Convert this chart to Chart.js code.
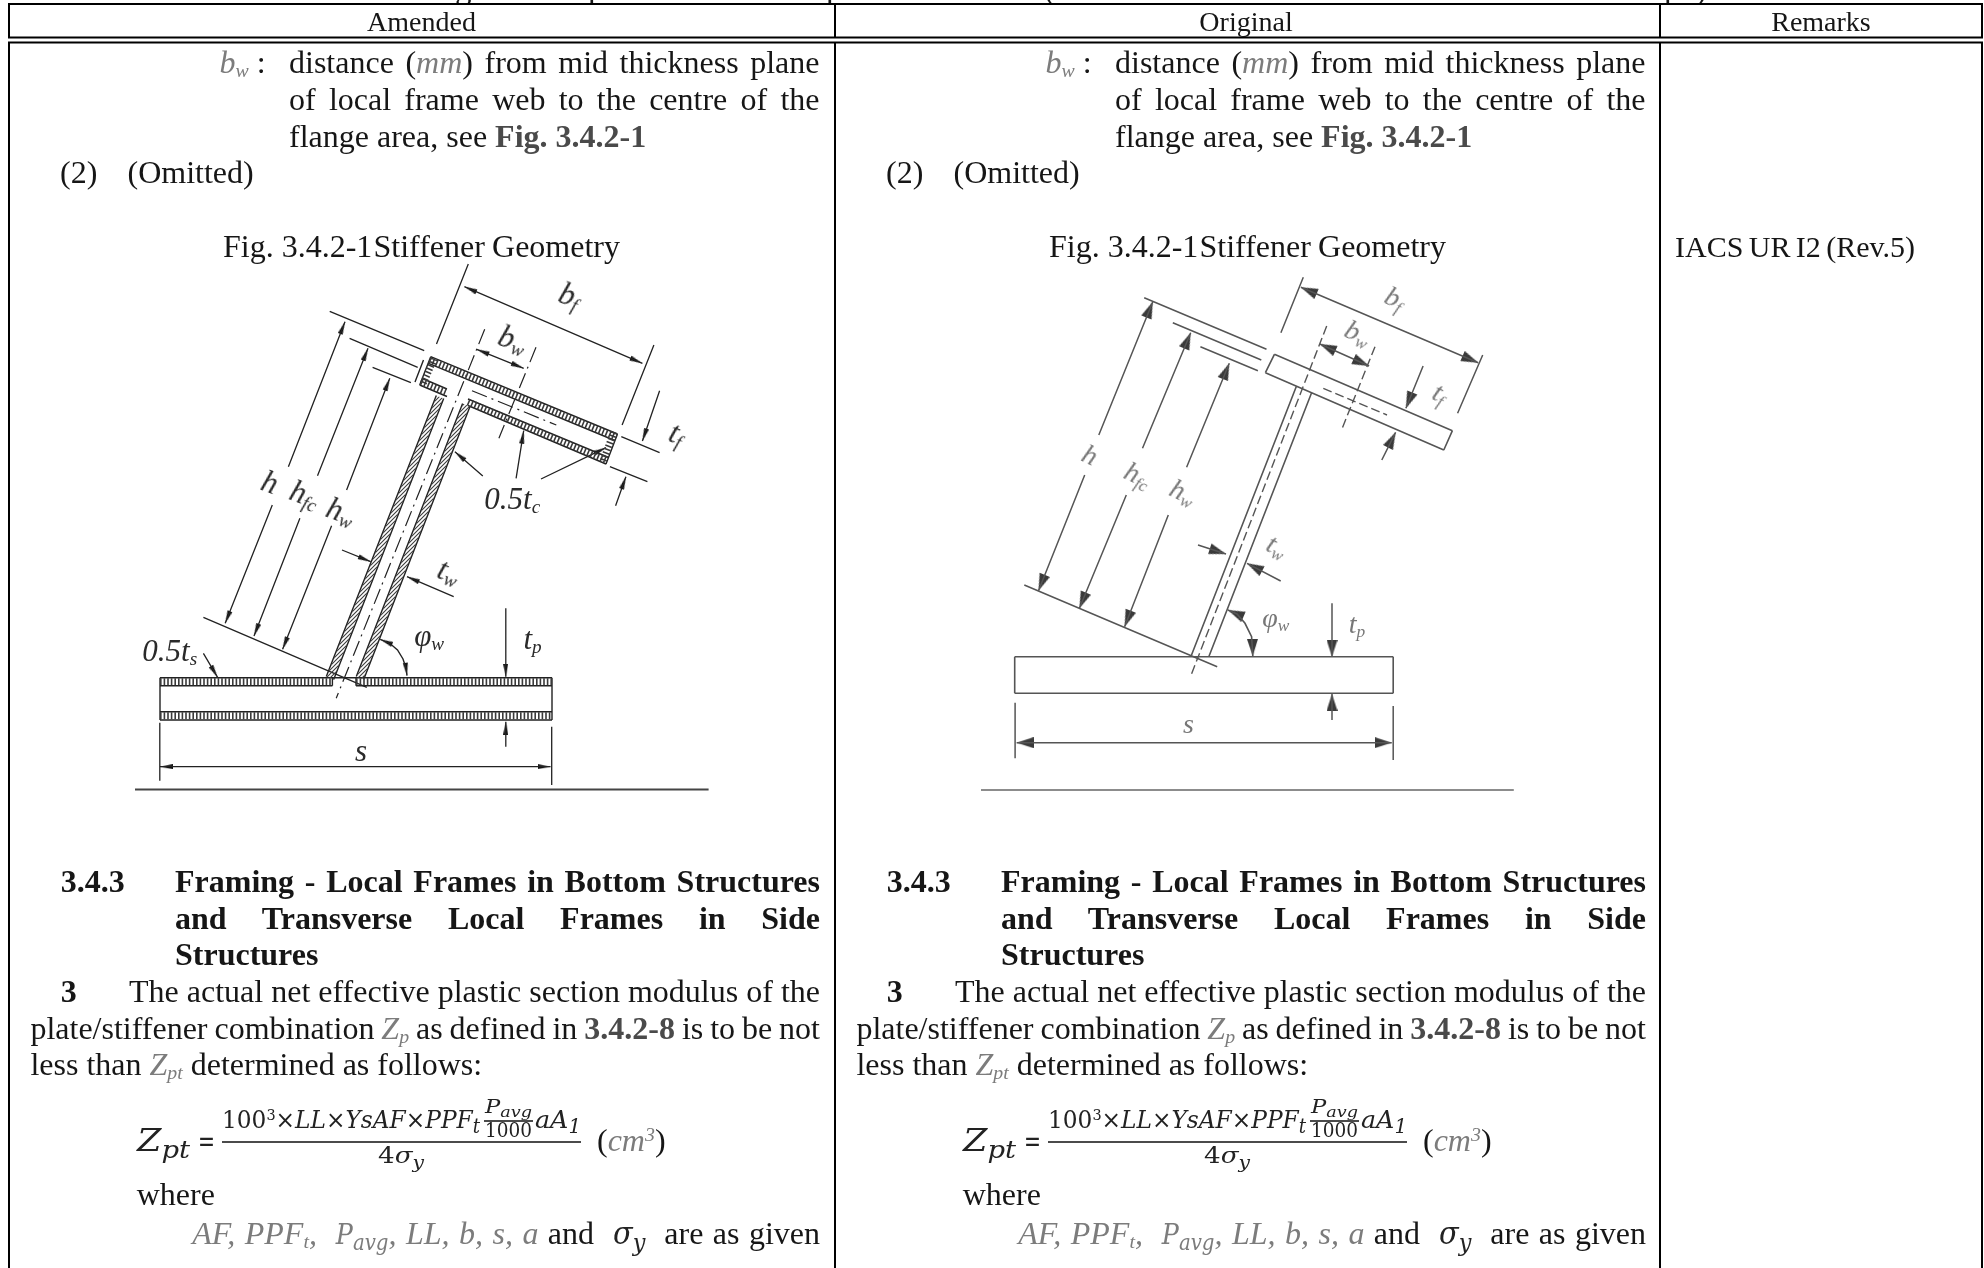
<!DOCTYPE html>
<html><head><meta charset="utf-8">
<script src="https://cdn.jsdelivr.net/npm/chart.js@4/dist/chart.umd.js"></script>
<style>
html,body{margin:0;padding:0;background:#fff;width:1984px;height:1268px;overflow:hidden}
#c{position:absolute;left:0;top:0;display:block}
#txt{position:absolute;left:0;top:0;width:1984px;height:1268px;font-family:"Liberation Serif","Times New Roman",serif;color:#161616}
.t{position:absolute;white-space:nowrap;line-height:1em;transform-origin:left center}
.t i.g,.g{color:#7c7c7c}
b.g{color:#4a4a4a}
sub{font-size:.62em;vertical-align:-.22em;line-height:0}
sup{font-size:.62em;vertical-align:.5em;line-height:0}
.m{font-family:"DejaVu Serif Condensed","DejaVu Serif",serif;font-style:italic;color:#222}
.m.n,.m .n{font-style:normal}
.m.g{color:#7c7c7c;font-size:.88em}
.m sub{font-size:.78em;vertical-align:-.28em}
.lab{position:absolute;white-space:nowrap;line-height:1em;font-style:italic}
.lab.a{font-size:31px;color:#2a2a2a;filter:blur(.3px)}
.lab.o{font-size:28px;color:#777;filter:blur(.6px)}
#top{position:absolute;left:0;top:0;width:1984px;height:3px;overflow:hidden}
</style></head><body>
<canvas id="c" width="1984" height="1268"></canvas>
<div id="txt"><div id="top"></div></div>
<script>
// ---------- text content ----------
const headers = [["Amended", 421.5], ["Original", 1246], ["Remarks", 1821]];
const BW = '<i class="g">b<sub>w</sub></i> :';
const bodyFont = 32;
const columnShift = 826;
// [x, baseline, fit width, html, size]
const columnText = [
  [219.6, 72.5, 0, BW],
  [289, 72.5, 530.5, 'distance (<i class="g">mm</i>) from mid thickness plane'],
  [289, 109.5, 530.5, 'of local frame web to the centre of the'],
  [289, 146.5, 0, 'flange area, see <b class="g">Fig. 3.4.2-1</b>'],
  [60, 183, 0, '(2)'],
  [127.5, 183, 0, '(Omitted)'],
  [223, 257, 0, 'Fig. 3.4.2-1'],
  [373.5, 257, 246.5, 'Stiffener Geometry'],
  [60.7, 892, 0, '<b>3.4.3</b>'],
  [175, 892, 645, '<b>Framing - Local Frames in Bottom Structures</b>'],
  [175, 928.5, 645, '<b>and Transverse Local Frames in Side</b>'],
  [175, 965, 0, '<b>Structures</b>'],
  [60.7, 1002, 0, '<b>3</b>'],
  [129, 1002, 691, 'The actual net effective plastic section modulus of the'],
  [30.4, 1038.5, 789.6, 'plate/stiffener combination <i class="g">Z<sub>p</sub></i> as defined in <b class="g">3.4.2-8</b> is to be not'],
  [30.4, 1075, 0, 'less than <i class="g">Z<sub>pt</sub></i> determined as follows:'],
  [136.7, 1205, 0, 'where'],
  [192.3, 1244, 627.7, '<i class="g">AF, PPF<sub>t</sub>, &nbsp;</i><span class="m g">P<sub>avg</sub></span><i class="g">, LL, b, s, a</i> and &nbsp;<span class="m">σ<sub>y</sub></span> &nbsp;are as given'],
  [597, 1151, 0, '(<i class="g">cm<sup>3</sup></i>)']
];
// [x, baseline, fit width (glyph scaling), html, size]
const formulaText = [
  [136.7, 1151, 53, '<span class="m">Z<sub>pt</sub></span>', 31],
  [198, 1151, 17, '<span class="m n">=</span>', 30],
  [222, 1128, 258, '<span class="m"><span class="n">100<sup>3</sup>×</span>LL<span class="n">×</span>YsAF<span class="n">×</span>PPF<sub>t</sub></span>', 25],
  [485, 1113, 47, '<span class="m">P<sub>avg</sub></span>', 19],
  [485, 1137.5, 47, '<span class="m n">1000</span>', 21],
  [535, 1128, 46, '<span class="m">aA<sub>1</sub></span>', 25],
  [378, 1163, 46, '<span class="m"><span class="n">4</span>σ<sub>y</sub></span>', 22]
];
const remarkText = [1675, 257, 240, 'IACS UR I2 (Rev.5)'];
const titleTails = [[455,'g'],[588,'p'],[826,'p'],[1044,'('],[1664,'p'],[1696,')']];

// ---------- table rules [x1,y1,x2,y2] ----------
const tableRules = [
  [8,4,1983,4],[9,4,9,37],[835,4,835,37],[1660,4,1660,37],[1982,4,1982,37],
  [8,37.5,1983,37.5],[8,42.5,1983,42.5],
  [9,42,9,1268],[835,42,835,1268],[1660,42,1660,1268],[1982,42,1982,1268]
];
const fractionBars = [[222,1142,581,1142],[484,1121,533,1121]];

// ---------- amended figure ----------
const amendedOutline = [
  [430.7,356.7,617.5,434],[428,363.2,614.8,440.5],
  [419.7,385,447,396.5],[422.4,378.5,447,389],[468,405.5,606,464],[468,399,608.7,457.5],
  [430.7,356.7,419.7,385],[617.5,434,606,464],[423.5,360,415,382],
  [436.3,395.6,326.3,676.6],[443.7,398.4,333.7,679.4],[462.6,403.6,356.3,676.6],[470,406.4,363.7,679.4],
  [160,677.7,552,677.7],[160,685.7,332.4,685.7],[356,685.7,552,685.7],[332.4,677.7,332.4,685.7],[356,677.7,356,685.7],
  [160,711.7,552,711.7],[160,720,552,720],[160,677.7,160,720],[552,677.7,552,720]
];
const amendedHatch = [
  [429.4,359.9,616.2,437.2],[421,381.8,447.5,392.8],[468,402,607.3,460.8],
  [434,358.5,423,384],[614,432,603,461],
  [160,681.7,332.4,681.7],[356,681.7,552,681.7],[160,715.8,552,715.8]
];
const amendedWebHatch = [[440,397,330,678],[466.3,405,360,678]];
const amendedThin = [
  [329.7,311.3,424.2,350.7],[349.6,338.3,417.7,367.3],[372.6,367.3,410.9,382.7],
  [203.4,617.3,366.8,687.3],[468.3,264,436.5,344],[653.9,345,622.1,425],
  [621.3,436.7,659.6,452.7],[609.9,466.7,647.4,481.7],
  [159.8,722.7,159.8,780.7],[551.7,726.7,551.7,785]
];
const amendedArrows = [
  [288.4,466.7,345,321.7],[317.5,475.7,368,348.3],[346.6,490,389.8,378.3],
  [272.3,505,225.2,623.3],[299.9,518.3,254,636],[331.6,525.7,282.6,649.3],
  [642.4,363.3,464.4,286.7],[464.4,286.7,642.4,363.3],
  [523.7,368.3,476.7,349.3],[476.7,349.3,523.7,368.3],
  [659.6,390.7,642.4,441],[615.6,505.7,625.9,476.7],
  [482.8,476,454.9,451.7],[516.1,478.3,523.7,430.7],[541,479,606,447.7],
  [342,550,370.7,561.7],[453.7,596.7,407,576.7],
  [505.8,608.3,505.8,676.7],[505.8,746.7,505.8,721.7],
  [203.4,653.3,217.6,677.3],
  [550.5,766.7,160,766.7],[160,766.7,550.5,766.7],
  [390,643.5,380.2,639.3],[406,668,407,675.7]
];
const amendedArc = [[380.2,639.3],[390,643.5],[397.5,650],[403,659],[406,668],[407,675.7]];
const amendedCenter = [[484.7,329.3,336.2,698.3],[536,347.3,498.9,438.3],[472,390.7,556.3,425]];
const amendedBase = [[135,789.5,708.6,789.5]];
const amendedLabels = [
  [570,295,'b<sub>f</sub>',20],[512.5,339,'b<sub>w</sub>',20],[676.8,432.5,'t<sub>f</sub>',20],
  [512.3,497.5,'0.5t<sub>c</sub>',0],[270.4,481.7,'h',20],[304.5,494,'h<sub>fc</sub>',20],[341.2,510.5,'h<sub>w</sub>',20],
  [449,571,'t<sub>w</sub>',20],[429.2,634.5,'φ<sub>w</sub>',0],[532.5,638,'t<sub>p</sub>',0],
  [169.8,650,'0.5t<sub>s</sub>',0],[361,749.5,'s',0]
];

// ---------- original figure ----------
const originalOutline = [
  [1274.4,354.3,1452.4,430.7],[1452.4,430.7,1443.8,450],[1443.8,450,1265.4,372.7],[1265.4,372.7,1274.4,354.3],
  [1296.5,386,1191.5,655],[1311.5,393,1208.8,656.7],
  [1014.7,656.7,1393.2,656.7],[1014.7,693.3,1393.2,693.3],[1014.7,656.7,1014.7,693.3],[1393.2,656.7,1393.2,693.3]
];
const originalThin = [
  [1144.2,297.7,1266.5,349.3],[1172.8,322.7,1261.3,360],[1200.4,346.7,1257.9,370.7],
  [1024.3,585,1217.2,666.7],[1303.3,277.3,1280.9,332.7],[1482.7,355,1457.6,413.3],
  [1015.1,702.7,1015.1,758.3],[1393.2,706,1393.2,760]
];
const originalArrows = [
  [1098.8,435,1152.8,301.7],[1142.5,448.3,1190.7,332.7],[1186.6,467.3,1229.3,363.3],
  [1084.7,475,1038.5,590.7],[1126.3,495,1079.4,608.3],[1168.3,515,1124.6,626.7],
  [1478.2,362.7,1300.9,287.3],[1300.9,287.3,1478.2,362.7],
  [1369.1,366,1319.8,344],[1319.8,344,1369.1,366],
  [1423.1,366,1405.9,408.3],[1381.8,460,1395.6,432.3],
  [1198,545,1226,554],[1280.7,581,1247,563.3],
  [1332,603.3,1332,656.7],[1332,720,1332,694],
  [1391.7,742.7,1016.6,742.7],[1016.6,742.7,1391.7,742.7],
  [1237,614,1227.9,610],[1252.5,640,1252.8,656]
];
const originalArc = [[1227.9,610],[1237,614],[1245,623.3],[1251.6,636.7],[1252.8,656]];
const originalCenter = [[1326.7,326,1191.5,674],[1375,346.7,1342.2,428.3],[1323.3,388.3,1387,415]];
const originalBase = [[981,790,1513.8,790]];
const originalLabels = [
  [1394.5,298,'b<sub>f</sub>',25],[1358,333,'b<sub>w</sub>',25],[1440.4,392.5,'t<sub>f</sub>',25],
  [1090.2,455,'h',25],[1137.5,474.5,'h<sub>fc</sub>',25],[1182.5,492,'h<sub>w</sub>',25],
  [1276.5,546,'t<sub>w</sub>',25],[1275.7,617.5,'φ<sub>w</sub>',0],[1357,624,'t<sub>p</sub>',0],[1188.5,724,'s',0]
];

// ---------- helpers ----------
const root = document.getElementById('txt');
function put(x, base, w, html, fs, scale){
  const d = document.createElement('div');
  d.className = 't';
  d.style.left = x + 'px';
  d.style.top = (base - 0.8375*fs) + 'px';
  d.style.fontSize = fs + 'px';
  d.innerHTML = html;
  root.appendChild(d);
  if (w){
    const n = d.getBoundingClientRect().width;
    if (scale) d.style.transform = 'scaleX(' + (w/n) + ')';
    else {
      const sp = d.textContent.split(/[ \u00a0]/).length - 1;
      if (sp) d.style.wordSpacing = ((w-n)/sp) + 'px';
    }
  }
  return d;
}
function label(item, cls){
  const d = document.createElement('div');
  d.className = 'lab ' + cls;
  d.style.left = item[0] + 'px';
  d.style.top = item[1] + 'px';
  d.style.transform = 'translate(-50%,-50%) rotate(' + item[3] + 'deg)';
  d.innerHTML = item[2];
  root.appendChild(d);
}
headers.forEach(h => { const d = put(0, 31, 0, h[0], 28); d.style.left = (h[1] - d.getBoundingClientRect().width/2) + 'px'; });
[0, columnShift].forEach(dx => {
  columnText.forEach(l => put(l[0]+dx, l[1], l[2], l[3], bodyFont));
  formulaText.forEach(l => put(l[0]+dx, l[1], l[2], l[3], l[4], true));
});
put(remarkText[0], remarkText[1], remarkText[2], remarkText[3], 30);
amendedLabels.forEach(l => label(l, 'a'));
originalLabels.forEach(l => label(l, 'o'));
const topStrip = document.getElementById('top');
titleTails.forEach(t => { const s = document.createElement('div'); s.className='t'; s.style.left=t[0]+'px'; s.style.top='-28px'; s.style.fontSize='33px'; s.textContent=t[1]; topStrip.appendChild(s); });

function segs(list){
  const out = [];
  list.forEach(s => { out.push({x:s[0],y:s[1]},{x:s[2],y:s[3]},{x:null,y:null}); });
  return out;
}
const path = pts => pts.map(p => ({x:p[0],y:p[1]}));
function lineSet(data, color, width, extra){
  return Object.assign({data, borderColor:color, borderWidth:width, showLine:true, pointRadius:0, borderCapStyle:'butt', spanGaps:false, tension:0}, extra||{});
}
function sprite(w, h, color){
  const c = document.createElement('canvas'); c.width=w; c.height=h;
  const g = c.getContext('2d'); g.fillStyle=color;
  g.beginPath(); g.moveTo(w/2,0); g.lineTo(w,h); g.lineTo(0,h); g.closePath(); g.fill();
  return c;
}
function diagonalPattern(){
  const c = document.createElement('canvas'); c.width=4; c.height=4;
  const g = c.getContext('2d');
  g.strokeStyle='#3c3c3c'; g.lineWidth=1.1;
  g.beginPath(); g.moveTo(-1,1); g.lineTo(1,-1); g.moveTo(0,4); g.lineTo(4,0); g.moveTo(3,5); g.lineTo(5,3); g.stroke();
  return g.createPattern(c,'repeat');
}
function arrowSet(list, img, color, soft){
  const pts=[], rot=[];
  list.forEach(a => {
    const dx=a[2]-a[0], dy=a[3]-a[1], L=Math.hypot(dx,dy);
    pts.push({x:a[2]-dx/L*img.height/2, y:a[3]-dy/L*img.height/2});
    rot.push(Math.atan2(dx,-dy)*180/Math.PI);
  });
  return {data:pts, showLine:false, pointStyle:img, pointRotation:rot, pointRadius:6, soft, borderColor:color, backgroundColor:color};
}
const softA = {soft:.35}, softO = {soft:.7};
const datasets = [
  lineSet(segs(tableRules), '#000', 2),
  lineSet(segs(fractionBars), '#111', 1.6),
  lineSet(segs(fractionBars.map(b => [b[0]+columnShift,b[1],b[2]+columnShift,b[3]])), '#111', 1.6),
  // amended figure
  lineSet(segs(amendedHatch), '#3a3a3a', 7, Object.assign({borderDash:[1.6,2]},softA)),
  lineSet(segs(amendedWebHatch), diagonalPattern(), 7, softA),
  lineSet(segs(amendedOutline), '#222', 1.4, softA),
  lineSet(segs(amendedThin), '#222', 1.3, softA),
  lineSet(segs(amendedArrows.slice(0,22)), '#222', 1.3, softA),
  lineSet(path(amendedArc), '#222', 1.4, softA),
  lineSet(segs(amendedCenter), '#222', 1.2, Object.assign({borderDash:[16,5,2,5]},softA)),
  lineSet(segs(amendedBase), '#444', 2),
  arrowSet(amendedArrows, sprite(5,13,'#111'), '#111', .3),
  // original figure
  lineSet(segs(originalOutline), '#555', 1.6, softO),
  lineSet(segs(originalThin), '#555', 1.5, softO),
  lineSet(segs(originalArrows.slice(0,18)), '#555', 1.5, softO),
  lineSet(path(originalArc), '#555', 1.6, softO),
  lineSet(segs(originalCenter), '#555', 1.4, Object.assign({borderDash:[9,4]},softO)),
  lineSet(segs(originalBase), '#8c8c8c', 2),
  arrowSet(originalArrows, sprite(11,17,'#3a3a3a'), '#3a3a3a', .6)
];
const softPlugin = {
  id:'soft',
  beforeDatasetDraw(chart,args){ const s=chart.data.datasets[args.index].soft; if(s) chart.ctx.filter='blur('+s+'px)'; },
  afterDatasetDraw(chart){ chart.ctx.filter='none'; }
};
new Chart(document.getElementById('c'), {
  type:'scatter',
  data:{datasets},
  plugins:[softPlugin],
  options:{
    responsive:false, animation:false, maintainAspectRatio:false,
    layout:{padding:0, autoPadding:false},
    plugins:{legend:{display:false},tooltip:{enabled:false},title:{display:false}},
    events:[],
    clip:false,
    scales:{
      x:{type:'linear',min:0,max:1984,display:false},
      y:{type:'linear',min:0,max:1268,reverse:true,display:false}
    }
  }
});
</script>
</body></html>
